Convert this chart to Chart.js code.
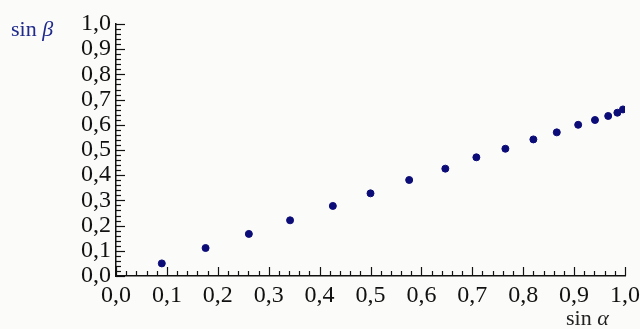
<!DOCTYPE html>
<html>
<head>
<meta charset="utf-8">
<script src="https://cdn.jsdelivr.net/npm/chart.js@4/dist/chart.umd.min.js"></script>
<style>
  html, body { margin: 0; padding: 0; background: #fbfbf9; }
  #wrap { width: 640px; height: 329px; position: relative; }
</style>
</head>
<body>
<div id="wrap"><canvas id="chart"></canvas></div>
<script>
const sinAlpha = [0.090, 0.176, 0.261, 0.342, 0.426, 0.500, 0.576, 0.647, 0.708, 0.765, 0.820, 0.866, 0.908, 0.941, 0.967, 0.985, 0.996];
const sinBeta  = [0.050, 0.111, 0.167, 0.221, 0.278, 0.328, 0.381, 0.426, 0.471, 0.505, 0.542, 0.570, 0.600, 0.619, 0.635, 0.648, 0.661];
const xTitle = ['sin ', 'α'];
const yTitle = ['sin ', 'β'];

const serif = "'Liberation Serif', serif";

function fmt(v) {
  const r = Math.round(v * 50);
  if (r % 5 !== 0) return '';
  return (r / 50).toFixed(1).replace('.', ',');
}

// ticks drawn inward, long at every 0.1, short at every 0.02
const innerTicks = {
  id: 'innerTicks',
  afterDraw(chart) {
    const ctx = chart.ctx;
    const area = chart.chartArea;
    const xs = chart.scales.x, ys = chart.scales.y;
    ctx.save();
    ctx.strokeStyle = '#111';
    ctx.lineWidth = 1.2;
    for (let i = 0; i <= 50; i++) {
      const v = i / 50;
      const len = i % 5 === 0 ? 9 : 5;
      const px = Math.round(xs.getPixelForValue(v)) + 0.5;
      ctx.beginPath();
      ctx.moveTo(px, area.bottom);
      ctx.lineTo(px, area.bottom - len);
      ctx.stroke();
      const py = Math.round(ys.getPixelForValue(v)) + 0.5;
      ctx.beginPath();
      ctx.moveTo(area.left, py);
      ctx.lineTo(area.left + len, py);
      ctx.stroke();
    }
    // axis titles
    ctx.textAlign = 'left';
    ctx.textBaseline = 'alphabetic';
    ctx.fillStyle = '#1f2a8c';
    ctx.font = '22px ' + serif;
    ctx.fillText(yTitle[0], 11, 36);
    let w = ctx.measureText(yTitle[0]).width;
    ctx.font = 'italic 22px ' + serif;
    ctx.fillText(yTitle[1], 11 + w, 36);
    ctx.fillStyle = '#222';
    ctx.font = '22px ' + serif;
    ctx.fillText(xTitle[0], 566, 325);
    w = ctx.measureText(xTitle[0]).width;
    ctx.font = 'italic 22px ' + serif;
    ctx.fillText(xTitle[1], 566 + w, 325);
    ctx.restore();
  }
};

new Chart(document.getElementById('chart'), {
  type: 'scatter',
  data: {
    datasets: [{
      data: sinAlpha.map((x, i) => ({ x, y: sinBeta[i] })),
      backgroundColor: '#0c0c78',
      borderColor: '#0c0c78',
      pointRadius: 3.5,
      pointHoverRadius: 3.5
    }]
  },
  options: {
    responsive: true,
    maintainAspectRatio: false,
    animation: false,
    layout: { padding: { left: 0, right: 15, top: 24, bottom: 0 } },
    plugins: { legend: { display: false }, tooltip: { enabled: false } },
    scales: {
      x: {
        type: 'linear',
        min: 0,
        max: 1,
        afterFit(s) { s.height = 53; s.paddingLeft = 0; s.paddingRight = 0; },
        grid: { display: false, drawTicks: false },
        border: { display: true, color: '#111', width: 1.5 },
        ticks: {
          stepSize: 0.1,
          autoSkip: false,
          maxRotation: 0,
          padding: 5,
          color: '#111',
          font: { family: serif, size: 24 },
          callback: v => fmt(v)
        }
      },
      y: {
        type: 'linear',
        min: 0,
        max: 1,
        afterFit(s) { s.width = 116; s.paddingTop = 0; s.paddingBottom = 0; },
        grid: { display: false, drawTicks: false },
        border: { display: true, color: '#111', width: 1.5 },
        ticks: {
          stepSize: 0.1,
          autoSkip: false,
          padding: 5,
          color: '#111',
          font: { family: serif, size: 24 },
          callback: v => fmt(v)
        }
      }
    }
  },
  plugins: [innerTicks]
});
</script>
</body>
</html>
